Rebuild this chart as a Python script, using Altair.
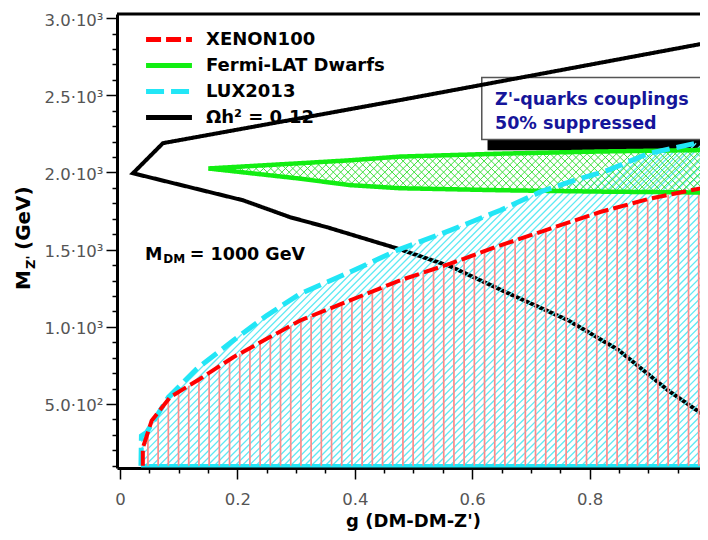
import altair as alt
import numpy as np
import pandas as pd

# ---------------- data ----------------
SERIES = ["XENON100", "Fermi-LAT Dwarfs", "LUX2013", "Ωh² = 0.12"]

# relic-density contour (path order)
omega_g = [1.0, 0.477, 0.0733, 0.0222, 0.2096, 0.29, 0.353, 0.472, 0.5625, 0.661, 0.7636, 0.849, 0.934, 1.0]
omega_m = [2840, 2469, 2190, 1995, 1820, 1710, 1645, 1508, 1392, 1218, 1042, 850, 587, 413]

# XENON100 excluded-region boundary
xenon_g = [0.039, 0.039, 0.054, 0.0852, 0.136, 0.193, 0.25, 0.307, 0.392, 0.477, 0.5625, 0.648, 0.733, 0.818, 0.903, 1.0]
xenon_m = [100, 216, 392, 543, 662, 803, 922, 1041, 1171, 1301, 1409, 1528, 1636, 1744, 1831, 1906]

# LUX2013 excluded-region boundary
lux_g = [0.0358, 0.0366, 0.0455, 0.0823, 0.1307, 0.1931, 0.25, 0.307, 0.392, 0.4716, 0.5625, 0.648, 0.716, 0.775, 0.832, 0.9, 1.0]
lux_m = [100, 294, 316, 543, 727, 911, 1073, 1214, 1355, 1495, 1625, 1755, 1874, 1950, 2015, 2123, 2205]

# Fermi-LAT dwarfs band
fermi_g = [0.1505, 0.307, 0.392, 0.477, 0.648, 0.818, 1.0]
fermi_lo = [2026, 1960, 1918, 1898, 1885, 1876, 1870]
fermi_hi = [2026, 2060, 2079, 2103, 2122, 2136, 2146]

REGION_FLOOR = 100

x_major_ticks = [0, 0.2, 0.4, 0.6, 0.8, 1.0]
x_minor_ticks = [0.05, 0.1, 0.15, 0.25, 0.3, 0.35, 0.45, 0.5, 0.55, 0.65, 0.7, 0.75, 0.85, 0.9, 0.95]
y_major_ticks = [500, 1000, 1500, 2000, 2500, 3000]
y_minor_ticks = [v for v in range(100, 3001, 100) if v % 500 != 0]

# ---------------- geometry / style ----------------
PX_PER_G = 587.0
GMIN, GMAX = -0.005, 0.988
MMIN, MMAX = 85, 3027
W, H = int(round((GMAX - GMIN) * PX_PER_G)), 454

RED = "#ff0000"
GREEN = "#12ee12"
CYAN = "#22e6f6"
NAVY = "#15159a"
FONT = "DejaVu Sans"
TICK_FONT = "DejaVu Sans"

xs = alt.Scale(domain=[GMIN, GMAX], nice=False, zero=False)
ys = alt.Scale(domain=[MMIN, MMAX], nice=False, zero=False)

color_scale = alt.Scale(domain=SERIES, range=[RED, GREEN, CYAN, "black"])
dash_scale = alt.Scale(domain=SERIES, range=[[15, 5], [1, 0], [18, 7], [1, 0]])

legend = alt.Legend(
    title=None, orient="none", legendX=41, legendY=14.5, padding=0,
    symbolType="M-2.7,0H2.7", symbolSize=289, symbolStrokeWidth=5,
    labelFont=FONT, labelFontWeight="bold", labelFontSize=18, labelColor="black",
    labelOffset=26, rowPadding=5, labelLimit=300,
)

common_axis = dict(tickColor="black", tickWidth=1.5, grid=False, labelFont=TICK_FONT,
                   labelColor="#555555", labelOverlap=False, labelFontSize=16.5)

x_major = alt.Axis(
    orient="bottom", values=x_major_ticks, labelExpr="format(datum.value, '~g')",
    title="g (DM-DM-Z')", titleFont=FONT, titleFontSize=18, titleFontWeight="bold",
    titleColor="black", titlePadding=5, titleX=296, titleAlign="center",
    labelPadding=12, labelFlush=False,
    tickSize=11, domainColor="black", domainWidth=3, **common_axis,
)
x_minor = alt.Axis(orient="bottom", values=x_minor_ticks, labels=False, domain=False, title=None,
                   tickSize=5, **common_axis)
y_major = alt.Axis(
    orient="left", values=y_major_ticks,
    labelExpr="datum.value >= 1000 ? format(datum.value/1000, '.1f') + '·10³' : format(datum.value/100, '.1f') + '·10²'",
    title=None, labelPadding=3, labelOffset=2, tickSize=11,
    domainColor="black", domainWidth=3, **common_axis,
)
y_minor = alt.Axis(orient="left", values=y_minor_ticks, labels=False, domain=False, title=None,
                   tickSize=5, **common_axis)


def to_px(g, m):
    g = np.asarray(g, float)
    m = np.asarray(m, float)
    return np.stack([(g - GMIN) / (GMAX - GMIN) * W, (MMAX - m) / (MMAX - MMIN) * H], 1)


def from_px(p):
    return p[0] / W * (GMAX - GMIN) + GMIN, MMAX - p[1] / H * (MMAX - MMIN)


def hatch(poly_g, poly_m, angle, spacing):
    """Clip a family of parallel lines (screen angle, px spacing) to a polygon."""
    pts = to_px(poly_g, poly_m)
    th = np.radians(angle)
    d = np.array([np.cos(th), -np.sin(th)])
    n = np.array([np.sin(th), np.cos(th)])
    c = pts @ n
    rows = []
    N = len(pts)
    for cv in np.arange(c.min() + spacing / 2, c.max(), spacing):
        ts = []
        for i in range(N):
            p1, p2 = pts[i], pts[(i + 1) % N]
            s1, s2 = p1 @ n - cv, p2 @ n - cv
            if (s1 > 0) != (s2 > 0):
                t = s1 / (s1 - s2)
                ts.append((p1 + t * (p2 - p1)) @ d)
        ts.sort()
        for a, b in zip(ts[0::2], ts[1::2]):
            g1, m1 = from_px(cv * n + a * d)
            g2, m2 = from_px(cv * n + b * d)
            rows.append({"g1": g1, "m1": m1, "g2": g2, "m2": m2})
    return pd.DataFrame(rows)


def path_df(name, gs, ms):
    return pd.DataFrame({"series": name, "g": list(gs), "M": list(ms), "k": list(range(len(gs)))})


red_poly_g = xenon_g + [1.0]
red_poly_m = xenon_m + [REGION_FLOOR]
cyan_poly_g = lux_g + [1.0]
cyan_poly_m = lux_m + [REGION_FLOOR]
green_poly_g = fermi_g + fermi_g[::-1][:-1]
green_poly_m = fermi_hi + fermi_lo[::-1][:-1]

# open outlines (left edge + curve + right edge); the floor is drawn separately
red_path = path_df(SERIES[0], red_poly_g, red_poly_m)
cyan_path = path_df(SERIES[2], cyan_poly_g, cyan_poly_m)
green_path = path_df(SERIES[1], green_poly_g + [green_poly_g[0]], green_poly_m + [green_poly_m[0]])
omega_path = path_df(SERIES[3], omega_g, omega_m)


def line_layer(df, width, xaxis=None, yaxis=None):
    return alt.Chart(df).mark_line(strokeWidth=width, clip=True).encode(
        x=alt.X("g:Q", scale=xs, axis=xaxis),
        y=alt.Y("M:Q", scale=ys, axis=yaxis),
        order="k:Q",
        color=alt.Color("series:N", scale=color_scale, legend=legend),
        strokeDash=alt.StrokeDash("series:N", scale=dash_scale, legend=legend),
    )


def rule_layer(df, color, width):
    return alt.Chart(df).mark_rule(color=color, strokeWidth=width, clip=True).encode(
        x=alt.X("g1:Q", scale=xs, axis=None), y=alt.Y("m1:Q", scale=ys, axis=None),
        x2="g2:Q", y2="m2:Q",
    )


cyan_hatch = rule_layer(hatch(cyan_poly_g, cyan_poly_m, 45, 4.9), "#5fe9f3", 1.3)
red_hatch = rule_layer(hatch(red_poly_g, red_poly_m, 90, 10.2), "#ff8a8a", 1.7)
green_hatch = rule_layer(
    pd.concat([hatch(green_poly_g, green_poly_m, 45, 5.2), hatch(green_poly_g, green_poly_m, 135, 5.2)]),
    "#3de03d", 1.0)
cyan_floor = rule_layer(pd.DataFrame({"g1": [lux_g[0]], "g2": [1.0], "m1": [REGION_FLOOR], "m2": [REGION_FLOOR]}),
                        CYAN, 3.5)

# annotation box with shadow (carries the major axes)
box_df = pd.DataFrame({"g1": [0.6274, 0.6163], "g2": [1.05, 1.05], "m1": [2149, 2214], "m2": [2560, 2615],
                       "fill": ["black", "white"], "stroke": ["black", "#555555"]})
box = alt.Chart(box_df).mark_rect(strokeWidth=1.5, clip=True).encode(
    x=alt.X("g1:Q", scale=xs, axis=x_major), x2="g2:Q",
    y=alt.Y("m1:Q", scale=ys, axis=y_major), y2="m2:Q",
    fill=alt.Fill("fill:N", scale=None), stroke=alt.Stroke("stroke:N", scale=None),
)

box_text = alt.Chart(pd.DataFrame({"text": ["Z'-quarks couplings", "50% suppressed"],
                                   "g": [0.6388, 0.6388], "M": [2472, 2317]})).mark_text(
    align="left", baseline="middle", font=FONT, fontWeight="bold", fontSize=17.5, color=NAVY
).encode(x=alt.X("g:Q", scale=xs, axis=None), y=alt.Y("M:Q", scale=ys, axis=None), text="text:N")

mdm_text = alt.Chart(pd.DataFrame({"text": ["M", "DM", "= 1000 GeV"], "g": [0.0426, 0.0738, 0.119],
                                   "M": [1432, 1411, 1432], "fs": [17.5, 12, 17.5]})).mark_text(
    align="left", baseline="alphabetic", font=FONT, fontWeight="bold", color="black"
).encode(x=alt.X("g:Q", scale=xs, axis=None), y=alt.Y("M:Q", scale=ys, axis=None), text="text:N",
         size=alt.Size("fs:Q", scale=None, legend=None))


# rotated y-axis title built from pieces (with subscript), placed left of the plot
def ytitle_piece(txt, px, py, fs):
    return alt.Chart(pd.DataFrame({"t": [txt]})).mark_text(
        align="left", baseline="alphabetic", angle=270, font=FONT, fontWeight="bold",
        color="black", fontSize=fs, x=px, y=py,
    ).encode(text="t:N")


ytitle = [ytitle_piece("M", -87, 276, 20), ytitle_piece("Z'", -82, 255, 13),
          ytitle_piece("(GeV)", -87, 236, 20)]

top_frame = alt.Chart(pd.DataFrame({"a": [0]})).mark_rule(color="black", strokeWidth=3).encode(
    x=alt.value(0), x2=alt.value(W + 10), y=alt.value(0))

chart = alt.layer(
    box,
    line_layer(omega_path, 4, xaxis=x_minor, yaxis=y_minor),
    cyan_hatch, cyan_floor, red_hatch, green_hatch,
    line_layer(green_path, 4.5),
    line_layer(cyan_path, 5),
    line_layer(red_path, 4),
    box_text, mdm_text, *ytitle, top_frame,
).resolve_axis(x="independent", y="independent").properties(
    width=W, height=H,
    autosize=alt.AutoSizeParams(type="none"),
    padding={"left": 109, "top": 6, "right": 0, "bottom": 64},
).configure_view(stroke=None)

chart.save("out.html", embed_options={"renderer": "svg", "actions": False})
